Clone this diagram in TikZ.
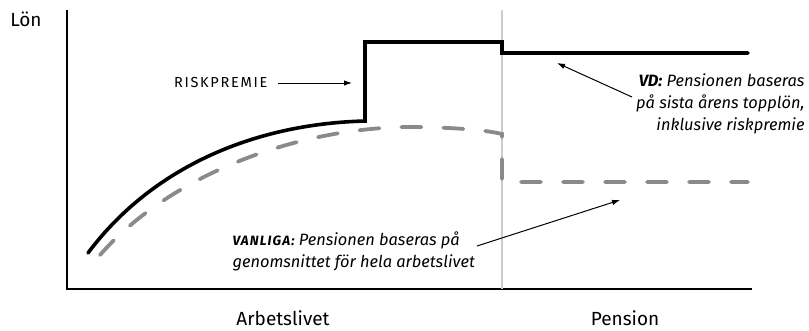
\documentclass[tikz,border=0pt]{standalone}
\usepackage{fontspec}
\setmainfont{Fira Sans}
\usetikzlibrary{calc}
\usetikzlibrary{arrows.meta}

\definecolor{snittgrey}{HTML}{8A8A8A}
\definecolor{delgrey}{HTML}{CCCCCC}

\tikzset{
  axel/.style={line width=2.4pt},
  vdlon/.style={line width=3.6pt, line cap=round},
  snitt/.style={line width=3.8pt, snittgrey, dash pattern=on 20pt off 22pt, line cap=round},
  pil/.style={line width=1pt, -{Latex[length=8pt,width=5.5pt]}},
  rubrik/.style={font=\fontsize{19}{22}\selectfont},
  anm/.style={font=\itshape\fontsize{16.4}{22}\selectfont},
}

\begin{document}
\begin{tikzpicture}[x=1pt,y=-1pt]
\useasboundingbox (0,0) rectangle (809,330);

% axlar
\coordinate (O) at (67,289);
\draw[axel] (67,10) -- (O) -- (752,289);
\draw[delgrey, line width=2pt] (502,10) -- (502,289);
\node[rubrik] (lon) at (26,19) {Lön};
\node[rubrik] (arbete) at (283,318) {Arbetslivet};
\node[rubrik] (pension) at (625,318) {Pension};

% VD: topplön inkl. riskpremie
\draw[vdlon, line join=miter] (88,253) .. controls (150,170) and (250,124) .. (365,121)
  -- (365,42) -- (502,42) -- (502,53) -- (748,53);

% vanliga: genomsnitt
\draw[snitt] (100,255) .. controls (170,175) and (300,125) .. (420,127)
  .. controls (460,128) and (485,130) .. (502,134) -- (502,182) -- (748,182);

% etiketter
\node[anchor=east, font=\fontsize{14.5}{16}\selectfont\addfontfeature{LetterSpace=12}] (risk) at (271,83) {RISKPREMIE};
\draw[pil] (278,83) -- (352,83);

\node[anm, anchor=east, align=right] (vd) at (808,104) {\textbf{VD:} Pensionen baseras\\ på sista årens topplön,\\ inklusive riskpremie};
\draw[pil] (632,97) -- (557,63);

\node[anm, anchor=west, align=left] (vanliga) at (229,251) {\textbf{\fontsize{13.5}{16}\selectfont\addfontfeature{LetterSpace=8}VANLIGA:} Pensionen baseras på\\ genomsnittet för hela arbetslivet};
\draw[pil] (477,246) -- (620,200);
\end{tikzpicture}
\end{document}
